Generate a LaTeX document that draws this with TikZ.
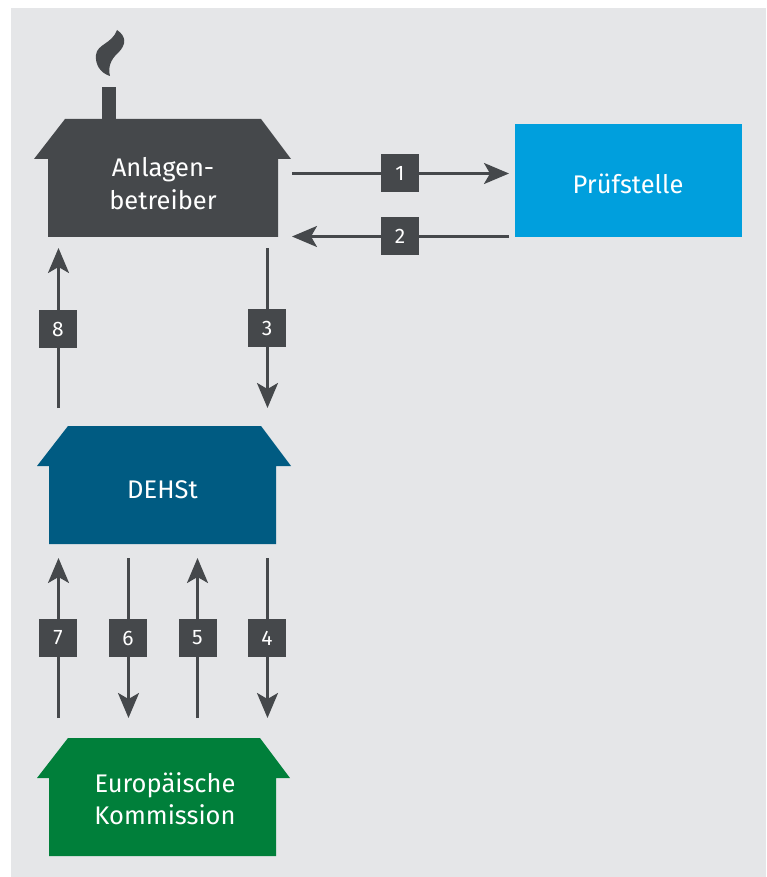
\documentclass[tikz,border=0pt]{standalone}
\usepackage{fontspec}
\setmainfont{Fira Sans}
\usetikzlibrary{arrows.meta}
\definecolor{bgc}{HTML}{E5E6E8}
\definecolor{dark}{HTML}{45484B}
\definecolor{cblue}{HTML}{009FDD}
\definecolor{cpetrol}{HTML}{005B82}
\definecolor{cgreen}{HTML}{007F3A}
\tikzset{
  x=1pt,y=-1pt,
  conn/.style={draw=dark,line width=2.5pt,-{Stealth[length=25pt,width=21pt,inset=6pt]}},
  numbox/.style={fill=dark,text=white,minimum size=38pt,inner sep=0pt,font=\fontsize{21}{21}\selectfont},
  lbl/.style={text=white,align=center,font=\fontsize{25.5}{32.5}\selectfont,inner sep=0pt},
}
\newcommand{\house}[6]{% fill, topY, eaveL, eaveR, bodyL, bodyR
  \fill[#1] (#3+31,#2) -- (#4-30,#2) -- (#4,#2+40) -- (#6,#2+40) -- (#6,#2+118) -- (#5,#2+118) -- (#5,#2+40) -- (#3,#2+40) -- cycle;
}
\begin{document}
\begin{tikzpicture}
\useasboundingbox (0,0) rectangle (766,877);
\fill[white] (0,0) rectangle (766,877);
\fill[bgc] (11,8) rectangle (766,877);
% houses
\house{dark}{119}{34}{291}{48}{278}
\fill[dark] (102,87) rectangle (116,120);
\fill[dark] (117,30) .. controls (126,36) and (127,44) .. (118,53)
  .. controls (110,60) and (108,68) .. (110,76)
  .. controls (100,73) and (95,64) .. (96,55)
  .. controls (97,44) and (112,44) .. (117,30) -- cycle;
\house{cpetrol}{426}{37}{291}{49}{276}
\house{cgreen}{738}{37}{290}{49}{276}
\fill[cblue] (515,124) rectangle (742,237);
% text
\node[lbl] (anlagen) at (163,183.5) {Anlagen-\\betreiber};
\node[lbl] (dehst) at (162.5,490) {DEHSt};
\node[lbl] (kommission) at (165,798.5) {Europäische\\Kommission};
\node[lbl] (pruef) at (628,184) {Prüfstelle};
% connector ends
\coordinate (a1) at (292,173.5); \coordinate (b1) at (509,173.5);
\coordinate (a2) at (509,236.5); \coordinate (b2) at (292,236.5);
\coordinate (a3) at (267.5,248); \coordinate (b3) at (267.5,408);
\coordinate (a8) at (58.5,408); \coordinate (b8) at (58.5,248);
\coordinate (a7) at (58.5,718); \coordinate (b7) at (58.5,558);
\coordinate (a6) at (128.5,558); \coordinate (b6) at (128.5,718);
\coordinate (a5) at (197.5,718); \coordinate (b5) at (197.5,558);
\coordinate (a4) at (267.5,558); \coordinate (b4) at (267.5,718);
\foreach \n in {1,...,8} \draw[conn] (a\n) -- (b\n);
% number boxes
\node[numbox] (n1) at (400,173) {1};
\node[numbox] (n2) at (400,236) {2};
\node[numbox] (n3) at (267,328) {3};
\node[numbox] (n8) at (58,329) {8};
\node[numbox] (n7) at (58,638) {7};
\node[numbox] (n6) at (128,638) {6};
\node[numbox] (n5) at (197.5,638) {5};
\node[numbox] (n4) at (267,638) {4};
\end{tikzpicture}
\end{document}
